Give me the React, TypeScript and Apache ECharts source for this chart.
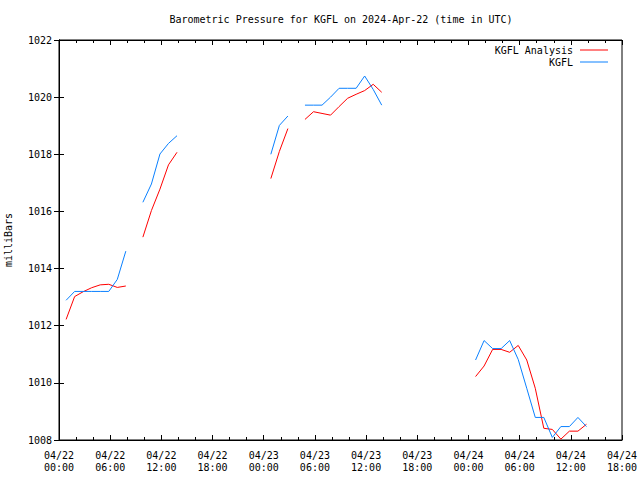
import React, { useEffect, useRef } from "react";
import * as echarts from "echarts";

// Hours after 2024-04-22 00:00 UTC (observation hour index); obs taken ~10 min before the hour
const hourIndex: number[] = Array.from({ length: 62 }, (_, i) => i + 1);
const obsMinuteOffset = -10; // minutes relative to the hour mark

// KGFL Analysis (red)
const analysis: (number | null)[] = [
  1012.22, 1013.02, 1013.19, 1013.33, 1013.43, 1013.45, 1013.34, 1013.39,
  null,
  1015.1, 1016.03, 1016.78, 1017.63, 1018.07,
  null, null, null, null, null, null, null, null, null, null,
  1017.15, 1018.1, 1018.9,
  null,
  1019.22, 1019.49, 1019.43, 1019.37, 1019.67, 1019.96, 1020.1, 1020.23, 1020.45, 1020.17,
  null, null, null, null, null, null, null, null, null, null,
  1010.22, 1010.59, 1011.17, 1011.17, 1011.07, 1011.31, 1010.8, 1009.81,
  1008.41, 1008.37, 1008.03, 1008.31, 1008.31, 1008.55,
];

// KGFL observed (blue)
const observed: (number | null)[] = [
  1012.89, 1013.2, 1013.2, 1013.2, 1013.2, 1013.2, 1013.62, 1014.61,
  null,
  1016.32, 1016.96, 1018.01, 1018.38, 1018.65,
  null, null, null, null, null, null, null, null, null, null,
  1018.0, 1019.01, 1019.34,
  null,
  1019.72, 1019.72, 1019.72, 1020.0, 1020.31, 1020.31, 1020.31, 1020.74, 1020.27, 1019.72,
  null, null, null, null, null, null, null, null, null, null,
  1010.8, 1011.48, 1011.2, 1011.2, 1011.48, 1010.82, 1009.81, 1008.79,
  1008.79, 1008.09, 1008.47, 1008.47, 1008.79, 1008.47,
];

const yTicks = { min: 1008, max: 1022, interval: 2 };
const xRange = { min: 0, max: 66, interval: 6 };
const startDay = 22;

const FONT = "DejaVu Sans Mono";

function toSeries(vals: (number | null)[]) {
  return hourIndex.map((h, i) => [h + obsMinuteOffset / 60, vals[i] == null ? "-" : vals[i]]);
}

function xLabel(v: number) {
  const day = startDay + Math.floor(v / 24);
  const hr = Math.round(v % 24);
  const p = (n: number) => (n < 10 ? "0" + n : "" + n);
  return "04/" + p(day) + "\n" + p(hr) + ":00";
}

export default function App() {
  const ref = useRef<HTMLDivElement>(null);
  useEffect(() => {
    if (!ref.current) return;
    const chart = echarts.init(ref.current, null, { renderer: "svg" });
    const axisCommon = {
      axisLine: { show: true, lineStyle: { color: "#000", width: 1 } },
      splitLine: { show: false },
    };
    chart.setOption({
      animation: false,
      backgroundColor: "#fff",
      textStyle: { fontFamily: FONT, color: "#000" },
      title: {
        text: "Barometric Pressure for KGFL on 2024-Apr-22 (time in UTC)",
        left: 336,
        textAlign: "center",
        top: 9,
        textStyle: { fontFamily: FONT, fontSize: 10, fontWeight: "normal", color: "#000" },
      },
      legend: {
        orient: "vertical",
        right: 27,
        top: 39,
        align: "right",
        itemWidth: 28,
        itemHeight: 1,
        itemGap: 0,
        icon: "rect",
        textStyle: { fontFamily: FONT, fontSize: 10, color: "#000", lineHeight: 12, padding: [0, 2, 0, 0] },
        data: ["KGFL Analysis", "KGFL"],
      },
      grid: {
        left: 59,
        right: 18,
        top: 40,
        bottom: 40,
        show: true,
        borderColor: "#000",
        borderWidth: 1,
        containLabel: false,
        outerBoundsMode: "none",
      },
      xAxis: [
        {
          type: "value",
          ...xRange,
          ...axisCommon,
          axisTick: { show: true, inside: true, length: 5, lineStyle: { color: "#000" } },
          minorTick: { show: true, splitNumber: 3, length: 3, lineStyle: { color: "#000" } },
          minorSplitLine: { show: false },
          axisLabel: {
            formatter: xLabel,
            fontFamily: FONT,
            fontSize: 10,
            color: "#000",
            lineHeight: 12,
            margin: 9,
            showMinLabel: true,
            showMaxLabel: true,
            hideOverlap: false,
          },
        },
        {
          type: "value",
          position: "top",
          ...xRange,
          ...axisCommon,
          axisTick: { show: true, inside: true, length: 5, lineStyle: { color: "#000" } },
          minorTick: { show: true, splitNumber: 3, length: 3, lineStyle: { color: "#000" } },
          axisLabel: { show: false },
        },
      ],
      yAxis: [
        {
          type: "value",
          ...yTicks,
          ...axisCommon,
          name: "milliBars",
          nameLocation: "middle",
          nameGap: 46,
          nameTextStyle: { fontFamily: FONT, fontSize: 10, color: "#000" },
          axisTick: { show: true, inside: true, length: 5, lineStyle: { color: "#000" } },
          axisLabel: {
            fontFamily: FONT,
            fontSize: 10,
            color: "#000",
            margin: 7,
            formatter: (v: number) => String(v),
          },
        },
        {
          type: "value",
          position: "right",
          ...yTicks,
          ...axisCommon,
          axisTick: { show: true, inside: true, length: 5, lineStyle: { color: "#000" } },
          axisLabel: { show: false },
        },
      ],
      series: [
        {
          name: "KGFL Analysis",
          type: "line",
          data: toSeries(analysis),
          connectNulls: false,
          showSymbol: false,
          symbol: "none",
          lineStyle: { color: "#ff0000", width: 1 },
          itemStyle: { color: "#ff0000" },
        },
        {
          name: "KGFL",
          type: "line",
          data: toSeries(observed),
          connectNulls: false,
          showSymbol: false,
          symbol: "none",
          lineStyle: { color: "#0a80ff", width: 1 },
          itemStyle: { color: "#0a80ff" },
        },
      ],
    });
    return () => chart.dispose();
  }, []);
  return <div ref={ref} style={{ width: 640, height: 480, position: "absolute", left: 0, top: 0 }} />;
}
